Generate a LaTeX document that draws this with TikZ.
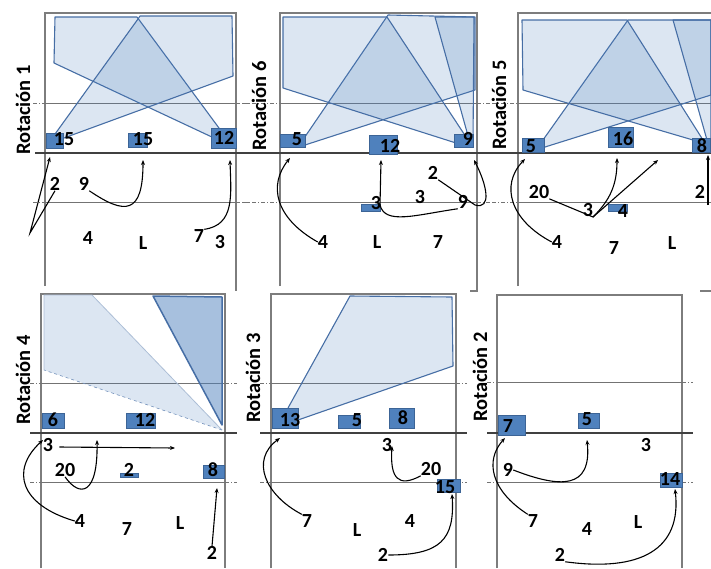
\documentclass[tikz,border=0pt]{standalone}
\usepackage{fontspec}
\setmainfont{Carlito}
\usetikzlibrary{arrows.meta}
\definecolor{zoneblue}{RGB}{79,129,189}
\definecolor{zoneline}{RGB}{70,110,165}
\definecolor{boxline}{RGB}{60,100,150}
\definecolor{courtgray}{RGB}{125,125,125}
\begin{document}
\begin{tikzpicture}[x=1pt,y=-1pt,
    court/.style={draw=courtgray, line width=1.4pt},
    netline/.style={draw=black!75, line width=1.6pt},
    attack/.style={draw=black!55, line width=0.8pt},
    attackx/.style={draw=black!55, line width=0.8pt, dash pattern=on 4pt off 2pt on 1pt off 2pt},
    zone/.style={fill=zoneblue, fill opacity=0.2, draw=zoneline, line width=1.1pt, line join=round},
    pl/.style={fill=zoneblue, draw=boxline, line width=0.6pt},
    num/.style={font=\bfseries\fontsize{20}{20}\selectfont, inner sep=0pt},
    rot/.style={font=\bfseries\fontsize{20.5}{20.5}\selectfont, rotate=90, inner sep=0pt},
    mv/.style={-{Stealth[length=5pt,width=4pt]}, line width=1.1pt, black}]
    \useasboundingbox (0,0) rectangle (711,568);

    % Rotacion 1
    \draw[court] (45,286) -- (45,13) -- (236,13) -- (236,291);
    \draw[attackx] (33,103) -- (45,103) (236,103) -- (250,103) (33,202) -- (45,202) (236,202) -- (250,202);
    \draw[attack] (45,103) -- (236,103) (45,202) -- (236,202);
    \draw[netline] (35,153) -- (250,153);
    \draw[zone] (55,17) -- (137,17) -- (233,147) -- (214,138) -- (54,63) -- cycle;
    \draw[zone] (50,141) -- (138,19) -- (140,16) -- (232,16) -- (233,76) -- (53,142) -- cycle;
    \filldraw[pl] (46,133) rectangle (63,148);
    \filldraw[pl] (128,133) rectangle (147,147);
    \filldraw[pl] (211,128) rectangle (236,148);
    \node[num] (a15) at (64,139) {15};
    \node[num] (b15) at (143,139) {15};
    \node[num] (a12) at (224,138) {12};
    \node[num] (a2) at (55,184) {2};
    \node[num] (a9) at (84,184) {9};
    \node[num] (a4) at (88,238) {4};
    \node[num] (aL) at (143,243) {L};
    \node[num] (a7) at (199,236) {7};
    \node[num] (a3) at (220,242) {3};
    \node[rot] (rot1) at (23,110) {Rotación 1};
    \coordinate (a2k) at (30,233);
    \coordinate (a2e) at (50,157);
    \coordinate (a9e) at (143,160);
    \coordinate (a7e) at (230,160);
    \draw[mv] (a2.south) -- (a2k) -- (a2e);
    \draw[mv] (a9.south east) .. controls (125,215) and (143,215) .. (a9e);
    \draw[mv] (a7.north east) .. controls (235,225) and (231,195) .. (a7e);

    % Rotacion 6
    \draw[court] (280,286) -- (280,13) -- (477,13) -- (477,291) -- (470,291);
    \draw[attackx] (243,103) -- (280,103) (477,103) -- (490,103) (243,202) -- (280,202) (477,202) -- (490,202);
    \draw[attack] (280,103) -- (477,103) (280,202) -- (477,202);
    \draw[netline] (247,153) -- (490,153);
    \draw[zone] (298,147) -- (388,15) -- (475,17) -- (475,90) -- (305,145) -- cycle;
    \draw[zone] (283,17) -- (387,17) -- (470,143) -- (456,143) -- (283,88) -- cycle;
    \draw[zone] (435,17) -- (474,17) -- (473,143) -- (470,143) -- cycle;
    \filldraw[pl] (280,134) rectangle (305,147);
    \filldraw[pl] (369,135) rectangle (397,154);
    \filldraw[pl] (454,134) rectangle (473,147);
    \filldraw[pl] (361,204) rectangle (380,211);
    \node[num] (b5) at (297,139) {5};
    \node[num] (b12) at (390,146) {12};
    \node[num] (b9) at (468,139) {9};
    \node[num] (b3) at (376,203) {3};
    \node[num] (b2) at (433,173) {2};
    \node[num] (c3) at (420,197) {3};
    \node[num] (c9) at (463,202) {9};
    \node[num] (b4) at (323,242) {4};
    \node[num] (bL) at (377,242) {L};
    \node[num] (b7) at (438,242) {7};
    \node[rot] (rot6) at (259,106) {Rotación 6};
    \coordinate (b4e) at (290,158);
    \coordinate (c9k) at (380,205);
    \coordinate (c9e) at (381,160);
    \coordinate (b2k) at (475,205);
    \coordinate (b2e) at (474,160);
    \draw[mv] (b4.west) .. controls (275,218) and (268,185) .. (b4e);
    \draw[mv] (c9.south west) .. controls (415,215) and (385,225) .. (c9k) -- (c9e);
    \draw[mv] (b2.south east) -- (b2k) .. controls (492,210) and (487,185) .. (b2e);

    % Rotacion 5
    \draw[court] (518,286) -- (518,13) -- (711,13);
    \draw[court] (700,291) -- (711,291);
    \draw[attackx] (492,103) -- (518,103) (492,202) -- (518,202);
    \draw[attack] (518,103) -- (711,103) (518,202) -- (711,202);
    \draw[netline] (487,153) -- (711,153);
    \draw[zone] (538,147) -- (628,20) -- (711,20) -- (711,95) -- (545,147) -- cycle;
    \draw[zone] (522,20) -- (627,20) -- (703,140) -- (693,140) -- (523,90) -- cycle;
    \draw[zone] (673,20) -- (711,20) -- (711,140) -- (707,140) -- cycle;
    \filldraw[pl] (522,138) rectangle (544,152);
    \filldraw[pl] (608,127) rectangle (633,147);
    \filldraw[pl] (692,138) rectangle (710,152);
    \filldraw[pl] (608,204) rectangle (627,211);
    \node[num] (c5) at (531,146) {5};
    \node[num] (c16) at (623,139) {16};
    \node[num] (c8) at (702,146) {8};
    \node[num] (d4) at (623,211) {4};
    \node[num] (c20) at (539,192) {20};
    \node[num] (d3) at (588,210) {3};
    \node[num] (c4) at (557,242) {4};
    \node[num] (c7) at (614,248) {7};
    \node[num] (cL) at (672,243) {L};
    \node[num] (c2) at (700,192) {2};
    \node[rot] (rot5) at (499,105) {Rotación 5};
    \coordinate (c4e) at (525,159);
    \coordinate (c20k) at (593,217);
    \coordinate (c20e) at (617,158);
    \coordinate (d3e) at (658,160);
    \coordinate (c2s) at (708,205);
    \coordinate (c2e) at (708,155);
    \draw[mv] (c4.west) .. controls (510,220) and (500,185) .. (c4e);
    \draw[mv] (c20.south east) -- (c20k) .. controls (610,200) and (617,185) .. (c20e);
    \draw[mv] (c20k) -- (d3e);
    \draw[mv] (c2s) -- (c2e);

    % Rotacion 4
    \draw[court] (41,568) -- (41,294) -- (225,294) -- (225,568);
    \draw[attackx] (30,383) -- (41,383) (225,383) -- (237,383) (30,482) -- (41,482) (225,482) -- (237,482);
    \draw[attack] (41,383) -- (225,383) (41,482) -- (225,482);
    \draw[netline] (30,433) -- (237,433);
    \fill[zoneblue, fill opacity=0.2] (44,295) -- (92,295) -- (222,430) -- (44,370) -- cycle;
    \draw[zoneline!45, line width=0.8pt] (44,370) -- (44,295) -- (92,295) -- (222,430);
    \draw[zoneline!75, line width=0.6pt, dashed] (222,430) -- (44,370);
    \draw[fill=zoneblue, fill opacity=0.5, draw=zoneline, line width=1.5pt, line join=round] (153,296) -- (222,297) -- (222,425) -- cycle;
    \filldraw[pl] (42,413) rectangle (64,428);
    \filldraw[pl] (126,413) rectangle (155,428);
    \filldraw[pl] (203,465) rectangle (224,478);
    \filldraw[pl] (120,473) rectangle (138,477);
    \node[num] (e6) at (53,420) {6};
    \node[num] (e12) at (145,420) {12};
    \node[num] (e8) at (213,470) {8};
    \node[num] (f2) at (129,470) {2};
    \node[num] (e3) at (48,445) {3};
    \node[num] (e20) at (65,470) {20};
    \node[num] (e4) at (80,521) {4};
    \node[num] (e7) at (127,529) {7};
    \node[num] (eL) at (180,523) {L};
    \node[num] (e2) at (212,553) {2};
    \node[rot] (rot4) at (23,380) {Rotación 4};
    \coordinate (e3e) at (175,448);
    \coordinate (e20e) at (97,440);
    \coordinate (e4e) at (43,440);
    \coordinate (e2e) at (217,488);
    \draw[mv] (e3.east) ++(6,2) -- (e3e);
    \draw[mv] (e20.south) .. controls (80,498) and (98,495) .. (e20e);
    \draw[mv] (e4.west) .. controls (20,505) and (10,470) .. (e4e);
    \draw[mv] (e2.north) -- (e2e);

    % Rotacion 3
    \draw[court] (271,568) -- (271,294) -- (456,294) -- (456,568);
    \draw[attackx] (260,383) -- (271,383) (456,383) -- (467,383) (260,482) -- (271,482) (456,482) -- (467,482);
    \draw[attack] (271,383) -- (456,383) (271,482) -- (456,482);
    \draw[netline] (260,433) -- (467,433);
    \draw[zone] (288,408) -- (350,296) -- (452,297) -- (453,366) -- (298,420) -- cycle;
    \filldraw[pl] (272,408) rectangle (298,428);
    \filldraw[pl] (338,415) rectangle (360,428);
    \filldraw[pl] (389,408) rectangle (414,428);
    \filldraw[pl] (437,479) rectangle (460,492);
    \node[num] (g13) at (290,420) {13};
    \node[num] (g5) at (357,420) {5};
    \node[num] (g8) at (403,418) {8};
    \node[num] (g15) at (445,487) {15};
    \node[num] (g3) at (387,445) {3};
    \node[num] (g20) at (431,469) {20};
    \node[num] (g7) at (307,521) {7};
    \node[num] (gL) at (357,530) {L};
    \node[num] (g4) at (410,521) {4};
    \node[num] (g2) at (383,555) {2};
    \node[rot] (rot3) at (253,378) {Rotación 3};
    \coordinate (g7e) at (280,438);
    \coordinate (g20e) at (392,446);
    \coordinate (g2e) at (452,494);
    \draw[mv] (g7.north west) .. controls (265,495) and (250,460) .. (g7e);
    \draw[mv] (g20.south west) .. controls (398,488) and (390,478) .. (g20e);
    \draw[mv] (g2.east) .. controls (440,555) and (455,540) .. (g2e);

    % Rotacion 2
    \draw[court] (497,568) -- (497,295) -- (682,295) -- (682,568);
    \draw[attackx] (487,382) -- (497,382) (682,382) -- (693,382) (487,482) -- (497,482) (682,482) -- (693,482);
    \draw[attack] (497,382) -- (682,382) (497,482) -- (682,482);
    \draw[netline] (487,433) -- (693,433);
    \filldraw[pl] (498,415) rectangle (525,435);
    \filldraw[pl] (578,413) rectangle (599,428);
    \filldraw[pl] (660,473) rectangle (682,487);
    \node[num] (h7) at (508,426) {7};
    \node[num] (h5) at (587,419) {5};
    \node[num] (h14) at (670,479) {14};
    \node[num] (h3) at (646,445) {3};
    \node[num] (h9) at (508,470) {9};
    \node[num] (i7) at (533,521) {7};
    \node[num] (h4) at (587,529) {4};
    \node[num] (hL) at (638,522) {L};
    \node[num] (h2) at (560,555) {2};
    \node[rot] (rot2) at (480,377) {Rotación 2};
    \coordinate (h9e) at (587,440);
    \coordinate (i7e) at (505,438);
    \coordinate (h2e) at (675,489);
    \draw[mv] (h9.east) .. controls (560,488) and (592,490) .. (h9e);
    \draw[mv] (i7.north west) .. controls (490,490) and (485,460) .. (i7e);
    \draw[mv] (h2.south east) .. controls (640,572) and (682,550) .. (h2e);
\end{tikzpicture}
\end{document}
